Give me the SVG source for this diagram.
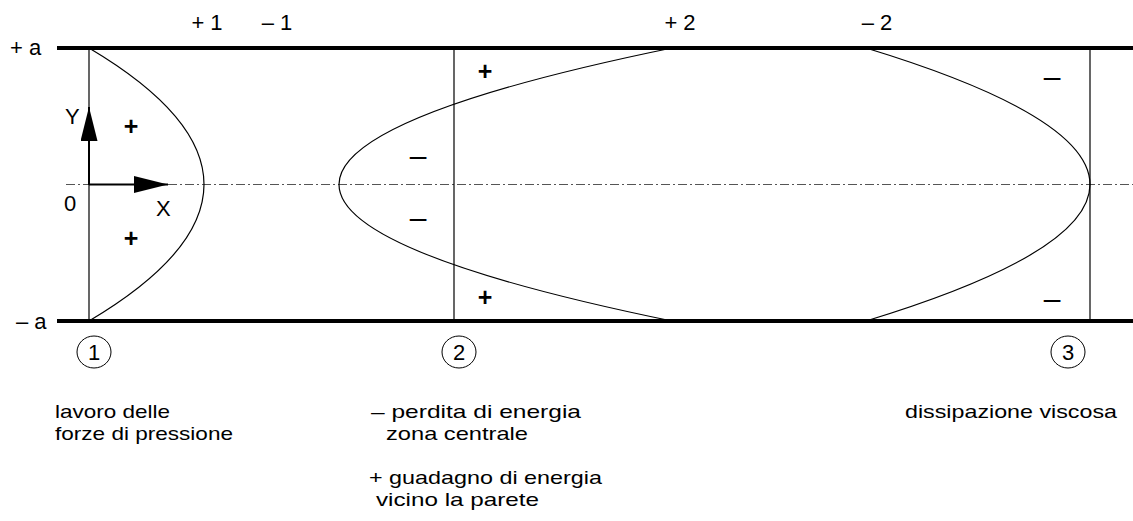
<svg xmlns="http://www.w3.org/2000/svg" width="1133" height="521" viewBox="0 0 1133 521">
<style>
text{font-family:"Liberation Sans",Arial,sans-serif;fill:#000}
.lbl{font-size:22px}
.ml{font-size:19px}
.sg{font-size:25px;font-weight:bold;text-anchor:middle}
.mn{font-size:30px;text-anchor:middle}
.num{font-size:22px;text-anchor:middle}
.wall{stroke:#000;stroke-width:4;fill:none}
.thin{stroke:#000;stroke-width:1.2;fill:none}
.axis{stroke:#555;stroke-width:1;stroke-dasharray:9 3 2 3;fill:none}
</style>
<defs>
<marker id="ah" viewBox="0 0 34 17" refX="34" refY="8.5" markerWidth="34" markerHeight="17" markerUnits="userSpaceOnUse" orient="auto">
<path d="M0,0 L34,8.5 L0,17 Z" fill="#000"/>
</marker>
</defs>
<g id="walls">
<line class="wall" x1="57" y1="48" x2="1133" y2="48"/>
<line class="wall" x1="57" y1="321" x2="1133" y2="321"/>
<line class="axis" x1="66" y1="184.5" x2="1133" y2="184.5"/>
<text class="lbl" x="10" y="55">+ a</text>
<text class="lbl" x="16" y="329">– a</text>
</g>
<g id="scale">
<text class="lbl" x="207" y="30" text-anchor="middle">+ 1</text>
<text class="lbl" x="277" y="30" text-anchor="middle">– 1</text>
<text class="lbl" x="680" y="30" text-anchor="middle">+ 2</text>
<text class="lbl" x="877" y="30" text-anchor="middle">– 2</text>
</g>
<g id="profile1">
<line class="thin" x1="89" y1="48" x2="89" y2="321"/>
<path class="thin" d="M89,48 Q319,184.5 89,321"/>
<text class="sg" x="131" y="135">+</text>
<text class="sg" x="131" y="247">+</text>
<ellipse cx="94" cy="352" rx="17" ry="16" fill="none" stroke="#000" stroke-width="1"/>
<text class="num" x="94" y="360">1</text>
<text class="ml" x="55" y="418" textLength="115" lengthAdjust="spacingAndGlyphs">lavoro delle</text>
<text class="ml" x="55" y="440" textLength="178" lengthAdjust="spacingAndGlyphs">forze di pressione</text>
</g>
<g id="profile2">
<line class="thin" x1="454" y1="48" x2="454" y2="321"/>
<path class="thin" d="M672,48 Q6,184.5 672,321"/>
<text class="sg" x="485" y="80">+</text>
<text class="sg" x="485" y="306">+</text>
<text class="mn" x="418" y="166">–</text>
<text class="mn" x="418" y="228">–</text>
<ellipse cx="459" cy="352" rx="17" ry="16" fill="none" stroke="#000" stroke-width="1"/>
<text class="num" x="459" y="360">2</text>
<text class="ml" x="371" y="418" textLength="210" lengthAdjust="spacingAndGlyphs">– perdita di energia</text>
<text class="ml" x="386" y="440" textLength="142" lengthAdjust="spacingAndGlyphs">zona centrale</text>
<text class="ml" x="369" y="484" textLength="233" lengthAdjust="spacingAndGlyphs">+ guadagno di energia</text>
<text class="ml" x="376" y="506" textLength="163" lengthAdjust="spacingAndGlyphs">vicino la parete</text>
</g>
<g id="profile3">
<line class="thin" x1="1090" y1="48" x2="1090" y2="321"/>
<path class="thin" d="M866,48 Q1314,184.5 866,321"/>
<text class="mn" x="1052" y="87">–</text>
<text class="mn" x="1052" y="309">–</text>
<ellipse cx="1068" cy="352" rx="17" ry="16" fill="none" stroke="#000" stroke-width="1"/>
<text class="num" x="1068" y="360">3</text>
<text class="ml" x="905" y="418" textLength="212" lengthAdjust="spacingAndGlyphs">dissipazione viscosa</text>
</g>
<g id="connectors">
<line x1="89" y1="185" x2="89" y2="107" stroke="#000" stroke-width="2" marker-end="url(#ah)"/>
<line x1="89" y1="184.5" x2="168" y2="184.5" stroke="#000" stroke-width="2" marker-end="url(#ah)"/>
<text class="lbl" x="65" y="124">Y</text>
<text class="lbl" x="64" y="211">0</text>
<text class="lbl" x="156" y="216">X</text>
</g>
</svg>
